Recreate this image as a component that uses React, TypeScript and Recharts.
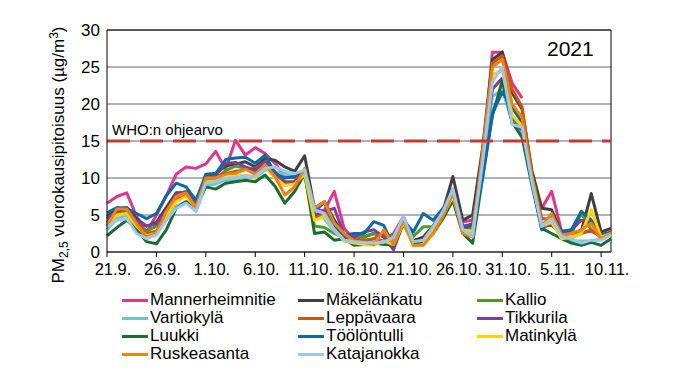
import React from 'react';
import { LineChart, Line, XAxis, YAxis, CartesianGrid, ReferenceLine, Label } from 'recharts';

const dates = [
  '21.9.', '22.9.', '23.9.', '24.9.', '25.9.', '26.9.', '27.9.', '28.9.', '29.9.', '30.9.',
  '1.10.', '2.10.', '3.10.', '4.10.', '5.10.', '6.10.', '7.10.', '8.10.', '9.10.', '10.10.',
  '11.10.', '12.10.', '13.10.', '14.10.', '15.10.', '16.10.', '17.10.', '18.10.', '19.10.', '20.10.',
  '21.10.', '22.10.', '23.10.', '24.10.', '25.10.', '26.10.', '27.10.', '28.10.', '29.10.', '30.10.',
  '31.10.', '1.11.', '2.11.', '3.11.', '4.11.', '5.11.', '6.11.', '7.11.', '8.11.', '9.11.',
  '10.11.', '11.11.',
];

const yTicks = [0, 5, 10, 15, 20, 25, 30];
const whoLimit = 15;
const whoLabel = 'WHO:n ohjearvo';
const yearLabel = '2021';

const mannerheimnitie = [6.6, 7.5, 8.0, 4.8, 2.6, 5.0, 7.6, 10.5, 11.5, 11.3, 11.9, 13.6, 11.2, 15.1, 13.1, 14.1, 13.3, 12.0, 10.2, 10.0, 10.5, 5.7, 5.6, 8.2, 3.2, 1.6, 1.4, 1.8, 1.5, 2.5, 4.8, 1.5, 2.0, 3.5, 5.5, 8.4, 4.1, 4.3, 12.0, 27.0, 27.0, 22.8, 20.8, null, 5.9, 8.2, 2.8, 2.6, 2.6, 2.8, 2.3, 2.5];
const makelankatu = [4.8, 5.8, 6.0, 4.5, 3.5, 4.0, 6.0, 8.0, 8.0, 6.5, 10.5, 10.6, 11.6, 11.9, 12.2, 11.5, 12.6, 12.4, 11.5, 10.9, 13.0, 5.9, 6.8, 4.3, 2.3, 2.3, 2.0, 2.5, 2.2, 1.8, 4.0, 1.5, 2.0, 3.5, 5.5, 10.2, 4.3, 5.0, 14.0, 26.0, 27.0, 21.5, 19.3, 11.0, 5.9, 5.7, 2.6, 2.5, 2.8, 7.9, 2.7, 3.2];
const kallio = [3.5, 5.0, 5.5, 3.8, 2.8, 3.5, 5.5, 7.5, 8.0, 6.3, 9.7, 9.9, 11.0, 11.6, 11.3, 10.8, 12.0, 10.5, 9.3, 9.0, 10.5, 3.5, 3.3, 2.5, 2.0, 2.2, 2.1, 2.5, 2.3, 2.1, 4.3, 2.1, 3.4, 3.4, 5.5, 7.5, 3.0, 3.5, 11.0, 19.0, 22.0, 18.0, 17.0, 10.0, 3.5, 4.5, 2.3, 2.5, 5.2, 3.0, 2.0, 2.5];
const vartiokyla = [3.0, 4.5, 5.0, 3.0, 1.8, 2.5, 4.5, 6.2, 6.8, 5.5, 9.0, 9.2, 9.7, 9.8, 10.2, 10.0, 11.1, 10.8, 10.5, 10.2, 10.8, 5.0, 4.5, 2.8, 1.5, 1.3, 1.2, 1.3, 1.2, 1.5, 4.5, 1.3, 1.5, 3.0, 5.2, 7.8, 3.2, 2.5, 12.0, 21.0, 22.0, 17.5, 16.0, 9.5, 3.0, 4.0, 2.0, 1.5, 1.5, 1.5, 1.8, 2.4];
const leppavaara = [4.0, 5.3, 6.0, 4.0, 2.5, 2.8, 5.0, 7.0, 7.8, 6.2, 9.8, 10.2, 10.6, 10.9, 11.1, 11.3, 12.2, 10.6, 9.0, 9.5, 11.2, 4.5, 5.5, 3.5, 2.0, 1.8, 1.6, 1.8, 2.5, 1.0, 4.3, 1.0, 1.2, 3.0, 5.0, 8.5, 3.5, 3.0, 13.0, 25.5, 26.5, 22.0, 19.6, 10.5, 4.5, 4.5, 2.0, 2.0, 2.5, 3.0, 2.0, 2.6];
const tikkurila = [4.5, 5.5, 5.8, 4.2, 3.5, 3.8, 5.5, 7.8, 8.2, 6.8, 10.2, 10.4, 12.0, 12.1, 11.5, 11.1, 12.2, 10.8, 9.5, 9.5, 10.8, 5.0, 5.5, 5.9, 2.3, 2.0, 2.7, 3.0, 2.0, 0.3, 4.0, 1.3, 1.5, 3.3, 5.5, 8.0, 3.5, 3.8, 12.5, 22.0, 23.5, 17.5, 16.5, 9.8, 3.5, 3.6, 2.5, 3.0, 4.3, 4.0, 2.3, 2.7];
const luukki = [2.2, 3.3, 4.3, 3.0, 1.4, 1.1, 3.0, 5.9, 6.8, 6.1, 8.8, 8.5, 9.3, 9.5, 9.7, 9.5, 10.4, 8.9, 6.6, 8.2, 10.6, 2.5, 2.7, 1.6, 1.8, 0.9, 1.0, 1.2, 1.0, 1.0, 3.8, 1.0, 1.3, 2.5, 4.5, 7.0, 2.5, 1.2, 10.0, 18.4, 23.2, 17.5, 15.5, 9.0, 3.2, 2.5, 1.8, 1.2, 0.9, 1.3, 0.9, 1.8];
const toolontulli = [5.3, 6.0, 5.9, 5.2, 4.5, 5.2, 7.6, 9.3, 8.8, 7.0, 10.4, 10.6, 12.5, 12.7, 12.8, 12.0, 13.1, 10.6, 10.0, 10.2, 10.9, 5.5, 6.7, 3.6, 2.3, 2.5, 2.5, 4.1, 3.6, 0.7, 4.3, 2.7, 5.2, 4.3, 5.9, 8.0, 3.0, 3.8, 10.0, 18.7, 21.6, 19.5, 17.5, 9.5, 3.0, 5.0, 2.8, 3.0, 5.5, 4.3, 2.3, 2.6];
const matinkyla = [3.8, 5.0, 5.2, 3.5, 2.2, 2.5, 5.0, 6.8, 7.5, 6.0, 9.5, 9.6, 10.0, 10.2, 10.4, 10.0, 11.5, 10.0, 9.0, 9.2, 10.5, 4.3, 4.8, 3.0, 1.5, 1.2, 1.0, 0.9, 1.5, 1.0, 4.0, 0.8, 1.0, 3.0, 5.0, 7.5, 3.0, 2.8, 12.5, 24.0, 24.5, 18.5, 17.0, 10.0, 3.5, 4.0, 1.8, 2.0, 2.5, 5.7, 2.0, 2.5];
const ruskeasanta = [3.5, 5.8, 5.8, 3.8, 2.0, 2.5, 5.5, 7.5, 8.0, 6.0, 10.0, 10.0, 10.5, 10.6, 11.2, 10.5, 11.8, 10.2, 7.7, 8.8, 11.3, 5.9, 6.8, 3.9, 2.5, 1.5, 1.3, 1.0, 3.0, 1.0, 4.3, 0.9, 0.9, 2.5, 4.8, 8.0, 2.5, 2.0, 13.5, 25.0, 26.0, 20.0, 18.2, 10.0, 3.5, 5.2, 2.3, 2.5, 3.0, 3.9, 1.8, 2.5];
const katajanokka = [3.4, 4.3, 4.5, 2.5, 1.8, 2.3, 4.3, 5.9, 6.6, 5.5, 9.3, 9.5, 10.0, 10.0, 10.3, 10.2, 11.3, 11.5, 10.9, 10.6, 11.1, 5.7, 5.2, 3.0, 1.6, 1.4, 1.3, 1.2, 1.3, 2.0, 4.8, 1.4, 1.6, 3.4, 5.5, 8.5, 3.0, 2.1, 12.0, 23.0, 25.0, 17.2, 16.9, 9.5, 3.5, 4.5, 2.1, 1.8, 1.2, 1.6, 1.6, 2.3];

const seriesNames = ['Mannerheimnitie', 'Mäkelänkatu', 'Kallio', 'Vartiokylä', 'Leppävaara', 'Tikkurila', 'Luukki', 'Töölöntulli', 'Matinkylä', 'Ruskeasanta', 'Katajanokka'];
const seriesValues = [mannerheimnitie, makelankatu, kallio, vartiokyla, leppavaara, tikkurila, luukki, toolontulli, matinkyla, ruskeasanta, katajanokka];
const seriesColors = ['#E0358C', '#404040', '#4E9A2C', '#6FC5CE', '#C45A12', '#7F3F98', '#1D6B33', '#0F68A6', '#FFD400', '#F08210', '#9CC7EA'];

const data = dates.map((d, i) => {
  const row: Record<string, any> = { date: d };
  seriesNames.forEach((n, k) => { row[n] = seriesValues[k][i]; });
  return row;
});

const FONT = '"Liberation Sans", Arial, sans-serif';

const XTick = (props: any) => {
  const { x, y, payload } = props;
  return (
    <text x={x + 6} y={y} dy={16} textAnchor="middle" fontSize={16.5} fontFamily={FONT} fill="#000">
      {payload.value}
    </text>
  );
};

const legendColX = [122, 298, 477];
const legendRowY = [300, 318, 336, 354];

export default function App() {
  return (
    <div style={{ position: 'absolute', left: 0, top: 0, width: 688, height: 391, background: '#fff', fontFamily: FONT }}>
      <LineChart width={688} height={391} data={data} margin={{ top: 30, right: 77, bottom: 109, left: 47 }}>
        <CartesianGrid vertical={false} stroke="#5E676E" strokeWidth={1} />
        <XAxis
          dataKey="date"
          interval={4}
          height={30}
          tick={<XTick />}
          tickSize={5}
          axisLine={{ stroke: '#000', strokeWidth: 1 }}
          tickLine={{ stroke: '#000', strokeWidth: 1 }}
        />
        <YAxis
          domain={[0, 30]}
          ticks={yTicks}
          width={60}
          tickLine={false}
          tickSize={5}
          tickMargin={2}
          axisLine={{ stroke: '#000', strokeWidth: 1 }}
          tick={{ fontSize: 17, fill: '#000', fontFamily: FONT }}
        >
          <Label
            content={() => (
              <text transform="translate(64,155) rotate(-90)" textAnchor="middle" fontSize={17} fontFamily={FONT} fill="#000">
                PM<tspan dy={4} fontSize={12}>2,5</tspan>
                <tspan dy={-4}> vuorokausipitoisuus (µg/m</tspan>
                <tspan dy={-6} fontSize={12}>3</tspan>
                <tspan dy={6}>)</tspan>
              </text>
            )}
          />
        </YAxis>
        <ReferenceLine y={30} stroke="#000" strokeWidth={1} />
        <ReferenceLine x={dates[dates.length - 1]} stroke="#000" strokeWidth={1} />
        {seriesNames.map((n, k) => (
          <Line
            key={n}
            dataKey={n}
            stroke={seriesColors[k]}
            strokeWidth={3}
            dot={false}
            type="linear"
            connectNulls={false}
            isAnimationActive={false}
            strokeLinejoin="round"
          />
        ))}
        <ReferenceLine
          y={whoLimit}
          stroke="#C43B2E"
          strokeWidth={3}
          strokeDasharray="23 10"
          label={(p: any) => (
            <text x={p.viewBox.x + 5} y={p.viewBox.y - 6} fontSize={15} fontFamily={FONT} fill="#000">
              {whoLabel}
            </text>
          )}
        />
      </LineChart>
      <div style={{ position: 'absolute', left: 547, top: 37, fontSize: 21, lineHeight: '24px', color: '#000' }}>{yearLabel}</div>
      {seriesNames.map((n, k) => {
        const col = k % 3;
        const row = Math.floor(k / 3);
        return (
          <div
            key={n}
            style={{ position: 'absolute', left: legendColX[col], top: legendRowY[row] - 10, height: 20, display: 'flex', alignItems: 'center', whiteSpace: 'nowrap' }}
          >
            <span style={{ display: 'inline-block', width: 26, height: 3, background: seriesColors[k], marginRight: 2 }} />
            <span style={{ fontSize: 17, lineHeight: '20px', color: '#000' }}>{n}</span>
          </div>
        );
      })}
    </div>
  );
}
